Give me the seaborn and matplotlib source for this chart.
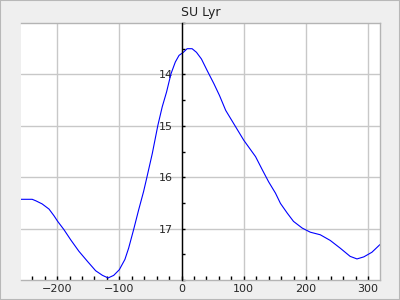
import matplotlib
matplotlib.use("Agg")
import matplotlib.pyplot as plt
import seaborn as sns
import pandas as pd
from matplotlib.ticker import MultipleLocator
from matplotlib.patches import Rectangle

phase = [-258, -240, -234, -224, -213, -205, -199, -189, -178, -165, -151, -138,
         -127, -118, -109, -100, -91, -85, -77, -69, -61, -56, -47, -38, -31, -24,
         -17, -10, -4, 3, 9, 17, 24, 32, 41, 52, 61, 71, 87, 100, 119, 130, 140,
         151, 159, 170, 180, 194, 207, 223, 239, 255, 271, 282, 293, 306, 319]
mag = [16.43, 16.43, 16.46, 16.52, 16.62, 16.75, 16.86, 17.02, 17.22, 17.44, 17.64,
       17.82, 17.91, 17.96, 17.91, 17.80, 17.60, 17.38, 17.02, 16.64, 16.28, 16.02,
       15.54, 14.99, 14.63, 14.34, 13.99, 13.76, 13.63, 13.57, 13.50, 13.50, 13.57,
       13.70, 13.92, 14.18, 14.41, 14.70, 15.02, 15.28, 15.60, 15.86, 16.09, 16.31,
       16.51, 16.70, 16.86, 16.99, 17.07, 17.12, 17.23, 17.38, 17.54, 17.59, 17.55,
       17.46, 17.31]
title = "SU Lyr"
xticks = [-200, -100, 0, 100, 200, 300]
yticks = [14, 15, 16, 17]

df = pd.DataFrame({"phase": phase, "mag": mag})

sns.set_style("white")
plt.rcParams["font.family"] = ["DejaVu Sans"]

fig = plt.figure(figsize=(4, 3), dpi=100, facecolor="#efefef")
ax = fig.add_axes([21 / 400, 20 / 300, 359 / 400, 257 / 300])
ax.set_facecolor("white")

sns.lineplot(data=df, x="phase", y="mag", sort=False, estimator=None,
             color="#0000ff", linewidth=0.8, ax=ax)

ax.set_xlim(-258, 319)
ax.set_ylim(18, 13)
ax.set_xticks(xticks)
ax.set_yticks(yticks)
ax.xaxis.set_minor_locator(MultipleLocator(20))
ax.yaxis.set_minor_locator(MultipleLocator(0.5))
ax.set_xlabel("")
ax.set_ylabel("")

ax.grid(True, which="major", color="#c8c8c8", linewidth=1.0)
ax.set_axisbelow(True)

for s in ["top", "right", "bottom"]:
    ax.spines[s].set_color("#b4b4b4")
    ax.spines[s].set_linewidth(1.0)
ax.spines["left"].set_position(("data", 0))
ax.spines["left"].set_color("black")
ax.spines["left"].set_linewidth(1.0)
ax.spines["left"].set_zorder(3)

ax.tick_params(axis="x", which="both", direction="in", length=3, width=1,
               color="black", labelsize=8, pad=3, bottom=True, top=False)
ax.tick_params(axis="y", which="both", direction="in", length=2.5, width=1,
               color="black", labelsize=8, pad=6, left=True, right=False)

ax.set_title(title, fontsize=9, pad=5, color="#222222")

fig.patches.append(Rectangle((0, 0), 1, 1, transform=fig.transFigure,
                             fill=False, edgecolor="#b8b8b8", linewidth=1.5))

fig.savefig("out.png", dpi=100, facecolor=fig.get_facecolor())
